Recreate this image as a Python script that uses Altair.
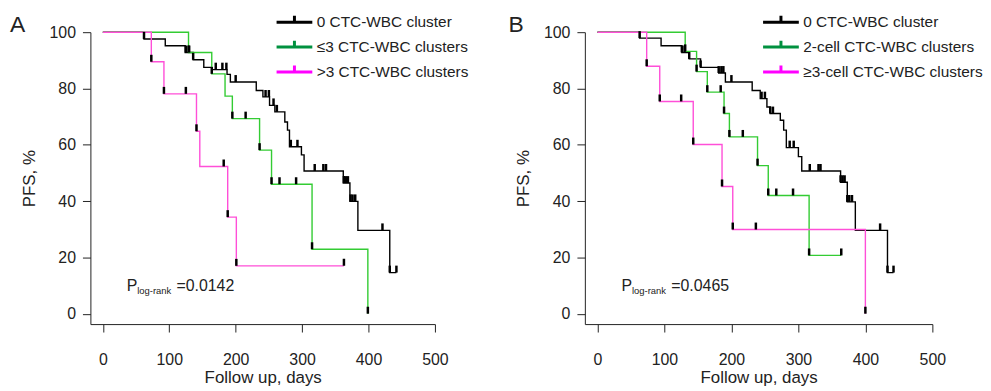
import altair as alt
import pandas as pd

FONT = "Liberation Sans"
TEXT = "#222222"

# ---------------- data ----------------
A_GROUPS = ["0 CTC-WBC cluster", "≤3 CTC-WBC clusters", ">3 CTC-WBC clusters"]
B_GROUPS = ["0 CTC-WBC cluster", "2-cell CTC-WBC clusters", "≥3-cell CTC-WBC clusters"]
LINE_COLORS = ["#000000", "#33cc33", "#ff4fd8"]
KEY_COLORS = ["#000000", "#00913f", "#ff00ff"]

# Panel A, 0 CTC-WBC cluster
A0_T = [0, 62, 94, 124, 136, 152, 164, 187, 192, 231, 241, 251, 259, 274, 278, 281, 299, 303, 362, 372, 384, 432, 442]
A0_S = [100, 97.6, 95.2, 92.8, 90.2, 87.5, 86.7, 85.0, 82.3, 79.3, 77.0, 74.0, 71.7, 68.1, 65.2, 59.3, 56.4, 50.7, 46.4, 39.9, 29.6, 14.6, 14.6]
A0_C = [62, 125, 130, 136, 170, 180, 186, 200, 245, 250, 257, 262, 283, 293, 319, 332, 336, 363, 366, 369, 373, 376, 380, 421, 432, 442]
# Panel A, <=3 clusters
A1_T = [0, 129, 164, 184, 195, 236, 254, 315, 399]
A1_S = [100, 92.8, 85.2, 77.3, 69.3, 58.1, 46.0, 22.9, 0]
A1_C = [129, 164, 195, 215, 236, 254, 266, 291, 315, 399]
# Panel A, >3 clusters
A2_T = [0, 73, 92, 141, 146, 188, 201, 363]
A2_S = [100, 89.5, 78.1, 64.8, 52.3, 34.3, 17.0, 17.0]
A2_C = [73, 92, 125, 141, 182, 188, 201, 363]

# Panel B, 0 CTC-WBC cluster
B0_T = [0, 63, 95, 126, 137, 154, 181, 191, 231, 243, 253, 258, 273, 278, 282, 300, 305, 363, 373, 385, 433, 442]
B0_S = [100, 97.9, 95.2, 92.8, 90.5, 87.5, 85.5, 82.3, 79.3, 76.4, 73.4, 71.1, 68.7, 65.2, 59.0, 55.8, 50.7, 46.7, 39.7, 29.6, 14.6, 14.6]
B0_C = [63, 126, 130, 137, 154, 181, 185, 188, 200, 245, 250, 258, 262, 287, 293, 317, 330, 333, 363, 366, 369, 373, 376, 380, 422, 433, 442]
# Panel B, 2-cell clusters
B1_T = [0, 131, 148, 164, 189, 197, 239, 255, 316, 364]
B1_S = [100, 93.2, 86.0, 78.7, 71.1, 62.8, 52.6, 42.0, 20.7, 20.7]
B1_C = [131, 148, 164, 184, 189, 197, 217, 239, 255, 267, 292, 316, 364]
# Panel B, >=3-cell clusters
B2_T = [0, 73.5, 93, 143, 186, 202, 400]
B2_S = [100, 87.9, 75.4, 60.1, 45.2, 29.9, 0]
B2_C = [73.5, 93, 125, 143, 186, 202, 236.5, 400]

X_TICKS = [0, 100, 200, 300, 400, 500]
Y_TICKS = [0, 20, 40, 60, 80, 100]
P_A = "=0.0142"
P_B = "=0.0465"
P_T, P_S = 36, 8.0  # anchor of the p-value note (days, %)


def surv_at(T, S, t):
    v = S[0]
    for ti, si in zip(T, S):
        if ti <= t:
            v = si
    return v


def tables(groups, curves):
    steps, cens = [], []
    for g, (T, S, C) in zip(groups, curves):
        for t, s in zip(T, S):
            steps.append({"group": g, "t": t, "s": s})
        for c in C:
            cens.append({"group": g, "t": c, "s": surv_at(T, S, c)})
    return pd.DataFrame(steps), pd.DataFrame(cens)


SYMBOL = "M-1,0L1,0M0,0L0,-0.36"


def panel(groups, curves, letter, pval, width, xmin, legend_x, letter_dx):
    steps, cens = tables(groups, curves)
    ax_common = dict(grid=False, tickSize=8, domainColor=TEXT, tickColor=TEXT,
                     labelColor=TEXT, titleColor=TEXT, labelFont=FONT, titleFont=FONT,
                     labelFontSize=16, titleFontSize=17, titleFontWeight="normal",
                     labelFlush=False, domainWidth=1, tickWidth=1)
    x = alt.X("t:Q", scale=alt.Scale(domain=[xmin, 500], nice=False, zero=False),
              axis=alt.Axis(values=X_TICKS, title="Follow up, days", labelPadding=20,
                            titlePadding=2, **ax_common))
    y = alt.Y("s:Q", scale=alt.Scale(domain=[-3.7, 100], nice=False, zero=False),
              axis=alt.Axis(values=Y_TICKS, title="PFS, %", labelPadding=7,
                            titlePadding=11, **ax_common))

    layers = []
    for g, col in zip(groups, LINE_COLORS):
        layers.append(
            alt.Chart(steps[steps["group"] == g]).mark_line(
                interpolate="step-after", strokeWidth=1.4, color=col
            ).encode(x=x, y=y)
        )
    key = alt.Chart(steps).mark_point(opacity=0).encode(
        x=x, y=y,
        stroke=alt.Stroke("group:N", scale=alt.Scale(domain=groups, range=KEY_COLORS),
                          legend=alt.Legend(orient="none", legendX=legend_x, legendY=-18,
                                            title=None, symbolType=SYMBOL, symbolSize=1296,
                                            symbolStrokeWidth=3, symbolOpacity=1,
                                            clipHeight=16, rowPadding=8, padding=0,
                                            labelFont=FONT, labelFontSize=15.5,
                                            labelColor=TEXT, labelOffset=3,
                                            labelLimit=400)),
    )
    ticks = alt.Chart(cens).mark_tick(orient="vertical", size=7, thickness=2.5,
                                      color="black", yOffset=-3.5, opacity=1).encode(x=x, y=y)
    one = pd.DataFrame({"t": [P_T], "s": [P_S]})
    lab = alt.Chart(one).mark_text(text=letter, font=FONT, fontSize=23, color=TEXT,
                                   align="left", baseline="alphabetic").encode(
        x=alt.value(letter_dx), y=alt.value(0))
    p1 = alt.Chart(one).mark_text(text="P", font=FONT, fontSize=16, color=TEXT,
                                  align="left", baseline="alphabetic").encode(x=x, y=y)
    p2 = alt.Chart(one).mark_text(text="log-rank", font=FONT, fontSize=9.5, color=TEXT,
                                  align="left", baseline="alphabetic", dx=10.5, dy=3).encode(x=x, y=y)
    p3 = alt.Chart(one).mark_text(text=pval, font=FONT, fontSize=16, color=TEXT,
                                  align="left", baseline="alphabetic", dx=50).encode(x=x, y=y)
    layers += [key, ticks, lab, p1, p2, p3]
    return alt.layer(*layers).properties(width=width, height=294)


A = panel(A_GROUPS, [(A0_T, A0_S, A0_C), (A1_T, A1_S, A1_C), (A2_T, A2_S, A2_C)],
          "A", P_A, 347, -18.7, 186, -81)
B = panel(B_GROUPS, [(B0_T, B0_S, B0_C), (B1_T, B1_S, B1_C), (B2_T, B2_S, B2_C)],
          "B", P_B, 350, -18.8, 178, -77)

chart = alt.hconcat(A, B, spacing=40).resolve_scale(
    x="independent", y="independent", stroke="independent"
).resolve_legend(stroke="independent").configure_view(
    stroke=None
).properties(padding={"left": 2, "top": 5, "right": 0, "bottom": 0})

chart.save("out.html", embed_options={"renderer": "svg", "actions": False})
